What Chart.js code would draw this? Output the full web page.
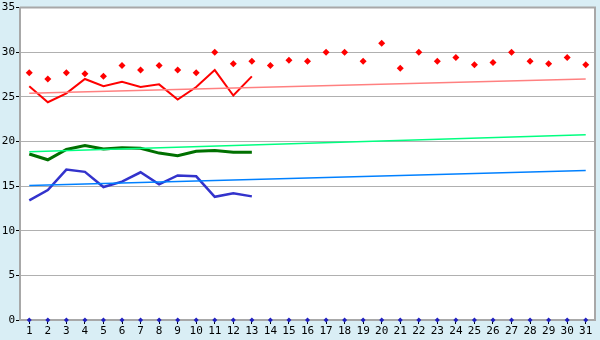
<!DOCTYPE html>
<html>
<head>
<meta charset="utf-8">
<script src="https://cdn.jsdelivr.net/npm/chart.js@4/dist/chart.umd.min.js"></script>
<style>
html,body{margin:0;padding:0;background:#d9eef5;}
#wrap{width:600px;height:340px;}
</style>
</head>
<body>
<div id="wrap"><canvas id="c" width="600" height="340"></canvas></div>
<script>
const days = ['1','2','3','4','5','6','7','8','9','10','11','12','13','14','15','16','17','18','19','20','21','22','23','24','25','26','27','28','29','30','31'];
const redLine = [26.2,24.4,25.4,27.0,26.2,26.7,26.1,26.4,24.7,26.1,28.0,25.15,27.3];
const greenLine = [18.6,17.95,19.1,19.55,19.15,19.3,19.25,18.7,18.4,18.9,19.0,18.8,18.8];
const blueLine = [13.4,14.55,16.85,16.6,14.9,15.5,16.55,15.2,16.2,16.1,13.8,14.2,13.85];
const redPoints = [27.7,27.0,27.7,27.6,27.3,28.5,28.0,28.5,28.0,27.7,30.0,28.7,29.0,28.5,29.1,29.0,30.0,30.0,29.0,31.0,28.2,30.0,29.0,29.4,28.6,28.85,30.0,29.0,28.7,29.4,28.6];
const zeroPoints = [0,0,0,0,0,0,0,0,0,0,0,0,0,0,0,0,0,0,0,0,0,0,0,0,0,0,0,0,0,0,0];
const redTrend = [25.4,27.0];
const greenTrend = [18.85,20.75];
const blueTrend = [15.07,16.74];
const yTicks = [0,5,10,15,20,25,30,35];

const first = days[0], last = days[days.length-1];
const trend = (v) => [{x:first,y:v[0]},{x:last,y:v[1]}];

const bgPlugin = {
  id:'bg',
  beforeDraw(chart){
    const {ctx, chartArea:a} = chart;
    ctx.save();
    ctx.fillStyle='#d9eef5';
    ctx.fillRect(0,0,chart.width,chart.height);
    ctx.fillStyle='#ffffff';
    ctx.fillRect(a.left,a.top,a.right-a.left,a.bottom-a.top);
    ctx.restore();
  },
  beforeDatasetsDraw(chart){
    const {ctx, chartArea:a} = chart;
    ctx.save();
    ctx.strokeStyle='#a8a8a8';
    ctx.lineWidth=2;
    ctx.beginPath();
    ctx.moveTo(a.left,a.top);
    ctx.lineTo(a.right,a.top);
    ctx.lineTo(a.right,a.bottom);
    ctx.stroke();
    ctx.restore();
  }
};

const font = {family:'DejaVu Sans Mono', size:11};

new Chart(document.getElementById('c'), {
  type:'line',
  data:{
    labels: days,
    datasets:[
      {data:trend(redTrend), borderColor:'#ff8080', borderWidth:1.5, pointRadius:0, tension:0},
      {data:trend(greenTrend), borderColor:'#00ff80', borderWidth:1.5, pointRadius:0, tension:0},
      {data:trend(blueTrend), borderColor:'#0080ff', borderWidth:1.5, pointRadius:0, tension:0},
      {data:redLine, borderColor:'#ff0000', borderWidth:2, pointRadius:0, tension:0},
      {data:greenLine, borderColor:'#007000', borderWidth:3, pointRadius:0, tension:0},
      {data:blueLine, borderColor:'#3333cc', borderWidth:2.5, pointRadius:0, tension:0},
      {data:redPoints, showLine:false, pointStyle:'rectRot', pointRadius:3.5, backgroundColor:'#ff0000', borderColor:'#ff0000', borderWidth:0},
      {data:zeroPoints, showLine:false, pointStyle:'rectRot', pointRadius:2.5, backgroundColor:'#2020c0', borderColor:'#2020c0', borderWidth:0, clip:false}
    ]
  },
  options:{
    responsive:false,
    animation:false,
    devicePixelRatio:1,
    layout:{padding:{top:5,right:5,left:0,bottom:0}},
    plugins:{legend:{display:false}, tooltip:{enabled:false}},
    scales:{
      x:{
        offset:true,
        grid:{drawOnChartArea:false, offset:false, tickColor:'#000', tickLength:4},
        border:{color:'#a8a8a8', width:2},
        ticks:{font:font, color:'#000', padding:1, maxRotation:0, autoSkip:false},
        afterFit(s){ s.height = 20; }
      },
      y:{
        min:0, max:35,
        afterBuildTicks(s){ s.ticks = yTicks.map(v=>({value:v})); },
        grid:{color:'#b0b0b0', tickColor:'#000', tickLength:4},
        border:{color:'#a8a8a8', width:2},
        ticks:{font:font, color:'#000', padding:1},
        afterFit(s){ s.width = 20; }
      }
    }
  },
  plugins:[bgPlugin]
});
</script>
</body>
</html>
